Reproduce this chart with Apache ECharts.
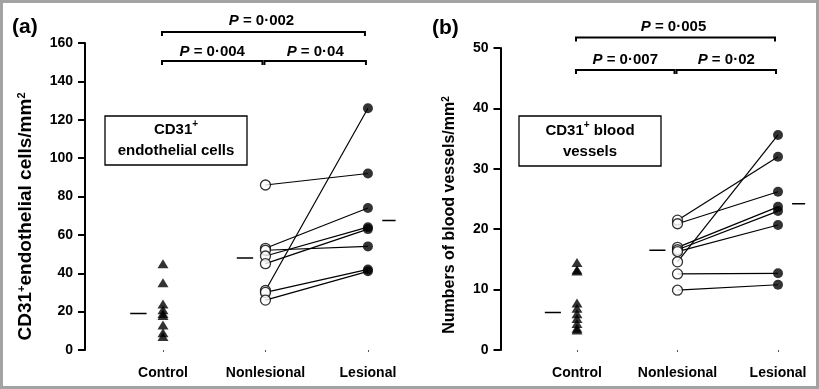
<!DOCTYPE html>
<html><head><meta charset="utf-8">
<script src="https://cdn.jsdelivr.net/npm/echarts@6/dist/echarts.min.js"></script>
<style>html,body{margin:0;padding:0;background:#fff}#c{width:819px;height:389px}</style>
</head><body><div id="c"></div>
<script>
// ---------- data ----------
const categories = ['Control', 'Nonlesional', 'Lesional'];
// panel (a): CD31+ endothelial cells/mm2
const aControl = [45, 35, 24, 21, 19, 18, 13, 9, 7];
const aNonlesional = [86, 53, 52, 49, 45, 31, 30, 26];
const aLesional = [92, 74, 54, 64, 63, 126, 42, 41];
const aMeans = [19, 48, 67.5];
const aYMax = 160, aYStep = 20;
const aPValues = ['0·004', '0·04', '0·002'];
// panel (b): blood vessels/mm2
const bControl = [14.5, 13.3, 13.1, 7.8, 6.9, 6.0, 5.2, 4.4, 3.6, 3.3];
const bNonlesional = [21.5, 20.9, 17.0, 16.6, 16.3, 14.6, 12.6, 9.9];
const bLesional = [32.0, 26.2, 23.7, 23.0, 20.7, 35.6, 12.7, 10.8];
const bMeans = [6.2, 16.5, 24.2];
const bYMax = 50, bYStep = 10;
const bPValues = ['0·007', '0·02', '0·005'];

// ---------- styles ----------
const FONT = 'Liberation Sans, Arial, sans-serif';
const BLACK = '#000';

const chart = echarts.init(document.getElementById('c'));

function xAxisCfg(gi, min, max) {
  return {
    type: 'value', gridIndex: gi, min: min, max: max,
    axisLine: { show: false, onZero: false }, splitLine: { show: false },
    axisTick: { show: true, customValues: [0, 1, 2], length: 2, lineStyle: { color: '#555', width: 1 } },
    axisLabel: { customValues: [0, 1, 2], formatter: v => categories[Math.round(v)],
      color: BLACK, fontFamily: FONT, fontWeight: 'bold', fontSize: 14, margin: 16 }
  };
}
function yAxisCfg(gi, max, step, nameRich, gap, shift, fs) {
  return {
    type: 'value', gridIndex: gi, min: 0, max: max, interval: step,
    axisLine: { show: true, onZero: false, lineStyle: { color: BLACK, width: 2 } },
    axisTick: { show: true, length: 7, lineStyle: { color: BLACK, width: 2 } },
    axisLabel: { color: BLACK, fontFamily: FONT, fontWeight: 'bold', fontSize: 14, margin: 12 },
    splitLine: { show: false },
    name: nameRich, nameLocation: 'middle', nameGap: gap,
    nameTextStyle: {
      padding: [0, shift, 0, 0],
      rich: {
        n: { fontSize: fs, fontWeight: 'bold', fontFamily: FONT, color: BLACK },
        s: { fontSize: Math.round(fs * 0.6), fontWeight: 'bold', fontFamily: FONT, color: BLACK, verticalAlign: 'top', padding: [0, 0, 6, 0] }
      }
    }
  };
}

function panelSeries(gi, ctrl, non, les, means) {
  const out = [];
  non.forEach((v, i) => {
    out.push({ type: 'line', xAxisIndex: gi, yAxisIndex: gi, data: [[1, v], [2, les[i]]],
      symbol: 'none', silent: true, z: 1, lineStyle: { color: BLACK, width: 1.2 } });
  });
  const meanOff = [[-0.32, -0.16], [-0.28, -0.12], [0.14, 0.27]];
  means.forEach((m, c) => {
    out.push({ type: 'line', xAxisIndex: gi, yAxisIndex: gi,
      data: [[c + meanOff[c][0], m], [c + meanOff[c][1], m]],
      symbol: 'none', silent: true, z: 1, lineStyle: { color: BLACK, width: 1.5 } });
  });
  out.push({ type: 'scatter', xAxisIndex: gi, yAxisIndex: gi, data: ctrl.map(v => [0, v]),
    symbol: 'triangle', symbolSize: [11, 9], itemStyle: { color: BLACK }, z: 3 });
  out.push({ type: 'scatter', xAxisIndex: gi, yAxisIndex: gi, data: non.map(v => [1, v]),
    symbol: 'circle', symbolSize: 10, itemStyle: { color: '#fff', borderColor: BLACK, borderWidth: 1.3 }, z: 3 });
  out.push({ type: 'scatter', xAxisIndex: gi, yAxisIndex: gi, data: les.map(v => [2, v]),
    symbol: 'circle', symbolSize: 10, itemStyle: { color: BLACK }, z: 3 });
  return out;
}

const option = {
  animation: false,
  backgroundColor: '#fff',
  grid: [
    { left: 85, top: 43, width: 327, height: 307 },
    { left: 500.5, top: 48, width: 315, height: 302 }
  ],
  xAxis: [xAxisCfg(0, -0.761, 2.43), xAxisCfg(1, -0.761, 2.373)],
  yAxis: [
    yAxisCfg(0, aYMax, aYStep, '{n|CD31}{s|+}{n|endothelial cells/mm}{s|2}', 50, 40, 19),
    yAxisCfg(1, bYMax, bYStep, '{n|Numbers of blood vessels/mm}{s|2}', 43, 32, 16)
  ],
  series: [].concat(
    panelSeries(0, aControl, aNonlesional, aLesional, aMeans),
    panelSeries(1, bControl, bNonlesional, bLesional, bMeans)
  )
};
chart.setOption(option);

// ---------- annotations ----------
function px(ai, c) { return chart.convertToPixel({ xAxisIndex: ai }, c); }
const graphics = [];
graphics.push({ type: 'rect', shape: { x: 1.5, y: 1.5, width: 816, height: 386 },
  style: { fill: 'none', stroke: '#a3a3a3', lineWidth: 3 }, z: 100 });
function ptext(x, y, val) {
  return { type: 'text', x: x, y: y, z: 50,
    style: { text: '{i|P}{n| = ' + val + '}', align: 'center', verticalAlign: 'middle',
      rich: { i: { fontSize: 15, fontStyle: 'italic', fontWeight: 'bold', fontFamily: FONT, fill: BLACK },
              n: { fontSize: 15, fontWeight: 'bold', fontFamily: FONT, fill: BLACK } } } };
}
function bracket(x1, x2, y) {
  return { type: 'polyline', z: 50, shape: { points: [[x1, y + 4], [x1, y], [x2, y], [x2, y + 4]] },
    style: { stroke: BLACK, lineWidth: 2, fill: 'none' } };
}
function panelAnn(ai, pv, yTop, yLow, tTop, tLow, label, lx, ly) {
  const p0 = px(ai, 0), p1 = px(ai, 1), p2 = px(ai, 2);
  const top = [p0 - 1, p2 - 3], l = [p0 - 1, p1 - 3], r = [p1 - 1, p2 - 2];
  graphics.push(bracket(top[0], top[1], yTop));
  graphics.push(bracket(l[0], l[1], yLow));
  graphics.push(bracket(r[0], r[1], yLow));
  graphics.push(ptext((top[0] + top[1]) / 2 - 2, tTop, pv[2]));
  graphics.push(ptext((l[0] + l[1]) / 2, tLow, pv[0]));
  graphics.push(ptext((r[0] + r[1]) / 2, tLow, pv[1]));
  graphics.push({ type: 'text', x: lx, y: ly, z: 50,
    style: { text: label, fontSize: 21, fontWeight: 'bold', fontFamily: FONT, fill: BLACK, verticalAlign: 'middle' } });
}
panelAnn(0, aPValues, 32, 61, 21, 51.5, '(a)', 12, 27);
panelAnn(1, bPValues, 37.5, 70, 27, 60, '(b)', 432, 28);

function legendBox(x, y, w, h, text) {
  graphics.push({ type: 'rect', z: 40, shape: { x: x, y: y, width: w, height: h },
    style: { fill: '#fff', stroke: BLACK, lineWidth: 1.3 } });
  graphics.push({ type: 'text', z: 41, x: x + w / 2, y: y + h / 2,
    style: { text: text, align: 'center', verticalAlign: 'middle', lineHeight: 21,
      rich: { n: { fontSize: 15, fontWeight: 'bold', fontFamily: FONT, fill: BLACK, lineHeight: 21 },
              s: { fontSize: 10, fontWeight: 'bold', fontFamily: FONT, fill: BLACK, verticalAlign: 'top', lineHeight: 21 } } } });
}
legendBox(105, 116, 142, 49, '{n|CD31}{s|+}\n{n|endothelial cells}');
legendBox(519, 116, 142, 50, '{n|CD31}{s|+}{n| blood}\n{n|vessels}');

chart.setOption({ graphic: graphics });
</script>
</body></html>
